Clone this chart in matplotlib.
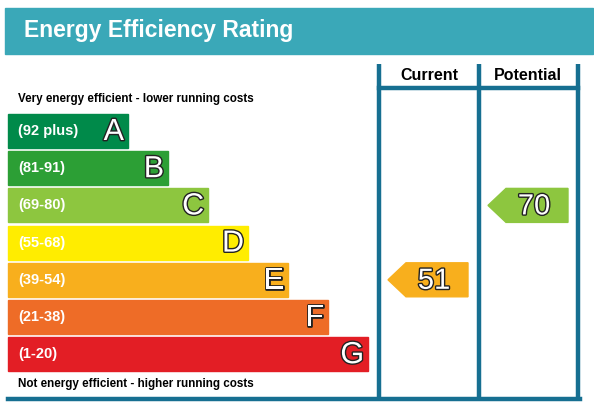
import matplotlib.pyplot as plt
from matplotlib.patches import Rectangle, Polygon
import matplotlib.patheffects as pe

bands = ['A', 'B', 'C', 'D', 'E', 'F', 'G']
ranges = ['(92 plus)', '(81-91)', '(69-80)', '(55-68)', '(39-54)', '(21-38)', '(1-20)']
colors = ['#008a4a', '#2c9f35', '#8dc63f', '#ffed00', '#f8af1d', '#ee6c27', '#e31e25']
band_low = [92, 81, 69, 55, 39, 21, 1]
current = 51
potential = 70

fig = plt.figure(figsize=(5.94, 4.11), dpi=100)
ax = fig.add_axes([0, 0, 1, 1])
ax.set_xlim(0, 594)
ax.set_ylim(411, 0)
ax.axis('off')

line_c = '#166f91'
ax.add_patch(Rectangle((5, 8), 588, 46, color='#3aa8b8'))
ax.text(24, 31, 'Energy Efficiency Rating', color='white', fontsize=16.5,
        fontweight='bold', va='center', family='Liberation Sans')

# frame
for x in [379, 479, 578]:
    ax.plot([x, x], [64, 399], color=line_c, lw=3.2, solid_capstyle='butt')
ax.plot([8, 580], [399, 399], color=line_c, lw=3.2)
ax.plot([379, 578], [88, 88], color=line_c, lw=3.2)
ax.text(429, 76, 'Current', fontsize=11.5, fontweight='bold', ha='center', va='center',
        family='Liberation Sans')
ax.text(528, 76, 'Potential', fontsize=11.5, fontweight='bold', ha='center', va='center',
        family='Liberation Sans')

ax.text(18, 99, 'Very energy efficient - lower running costs', fontsize=8.4,
        fontweight='bold', va='center', family='Liberation Sans')
ax.text(18, 384, 'Not energy efficient - higher running costs', fontsize=8.4,
        fontweight='bold', va='center', family='Liberation Sans')

outline = [pe.withStroke(linewidth=2, foreground='#222222')]
top0, step, h = 114, 37.2, 34
for i, (b, r, c) in enumerate(zip(bands, ranges, colors)):
    y = top0 + i * step
    w = 120 + i * 40
    ax.add_patch(Rectangle((8, y), w, h, color=c))
    ax.text(18, y + h / 2, r, color='white', fontsize=10.5, fontweight='bold',
            va='center', family='Liberation Sans')
    ax.text(8 + w - 4, y + h / 2 + 1, b, color='white', fontsize=22,
            ha='right', va='center', family='Liberation Sans', path_effects=outline)


def band_index(v):
    for i, lo in enumerate(band_low):
        if v >= lo:
            return i
    return len(band_low) - 1


def arrow(x0, v):
    i = band_index(v)
    y = top0 + i * step
    yc = y + h / 2
    pts = [(x0, yc), (x0 + 18, y), (x0 + 80, y), (x0 + 80, y + h), (x0 + 18, y + h)]
    ax.add_patch(Polygon(pts, closed=True, color=colors[i]))
    ax.text(x0 + 46, yc + 1, str(v), color='white', fontsize=21,
            ha='center', va='center', family='Liberation Sans', path_effects=outline)


arrow(388, current)
arrow(488, potential)

fig.savefig('out.png', dpi=100)
